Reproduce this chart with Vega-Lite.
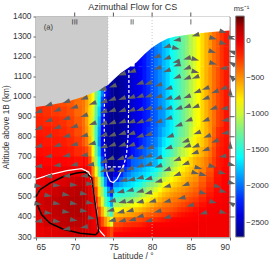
{"$schema":"https://vega.github.io/schema/vega-lite/v6.json","width":193.5,"height":220.5,"autosize":{"type":"none"},"padding":{"left":36,"top":16.5,"right":40,"bottom":25},"background":"white",
"config":{"font":"Liberation Sans","view":{"stroke":"#666","strokeWidth":1}},
"title":{"text":"Azimuthal Flow for CS","fontSize":9,"fontWeight":"normal","color":"#333","anchor":"middle","offset":4,"dy":11},
"datasets":{
"L":[
{"x":65.5,"y":975,"v":-230},{"x":66.5,"y":975,"v":-250},{"x":67.5,"y":975,"v":-270},{"x":68.5,"y":975,"v":-300},{"x":69.5,"y":975,"v":-330},{"x":70.5,"y":975,"v":-400},
{"x":65.5,"y":925,"v":-200},{"x":66.5,"y":925,"v":-220},{"x":67.5,"y":925,"v":-240},{"x":68.5,"y":925,"v":-260},{"x":69.5,"y":925,"v":-300},{"x":70.5,"y":925,"v":-380},
{"x":65.5,"y":875,"v":-180},{"x":66.5,"y":875,"v":-190},{"x":67.5,"y":875,"v":-200},{"x":68.5,"y":875,"v":-220},{"x":69.5,"y":875,"v":-270},{"x":70.5,"y":875,"v":-340},
{"x":65.5,"y":825,"v":-150},{"x":66.5,"y":825,"v":-160},{"x":67.5,"y":825,"v":-170},{"x":68.5,"y":825,"v":-190},{"x":69.5,"y":825,"v":-230},{"x":70.5,"y":825,"v":-300},
{"x":65.5,"y":775,"v":-130},{"x":66.5,"y":775,"v":-140},{"x":67.5,"y":775,"v":-150},{"x":68.5,"y":775,"v":-160},{"x":69.5,"y":775,"v":-190},{"x":70.5,"y":775,"v":-250},
{"x":65.5,"y":725,"v":-110},{"x":66.5,"y":725,"v":-120},{"x":67.5,"y":725,"v":-120},{"x":68.5,"y":725,"v":-130},{"x":69.5,"y":725,"v":-150},{"x":70.5,"y":725,"v":-200},
{"x":65.5,"y":675,"v":-80},{"x":66.5,"y":675,"v":-90},{"x":67.5,"y":675,"v":-90},{"x":68.5,"y":675,"v":-90},{"x":69.5,"y":675,"v":-100},{"x":70.5,"y":675,"v":-120},
{"x":65.5,"y":625,"v":-30},{"x":66.5,"y":625,"v":-30},{"x":67.5,"y":625,"v":-20},{"x":68.5,"y":625,"v":-10},{"x":69.5,"y":625,"v":0},{"x":70.5,"y":625,"v":10},
{"x":65.5,"y":575,"v":10},{"x":66.5,"y":575,"v":20},{"x":67.5,"y":575,"v":40},{"x":68.5,"y":575,"v":60},{"x":69.5,"y":575,"v":90},{"x":70.5,"y":575,"v":120},
{"x":65.5,"y":525,"v":30},{"x":66.5,"y":525,"v":60},{"x":67.5,"y":525,"v":110},{"x":68.5,"y":525,"v":130},{"x":69.5,"y":525,"v":150},{"x":70.5,"y":525,"v":170},
{"x":65.5,"y":475,"v":90},{"x":66.5,"y":475,"v":120},{"x":67.5,"y":475,"v":140},{"x":68.5,"y":475,"v":170},{"x":69.5,"y":475,"v":190},{"x":70.5,"y":475,"v":190},
{"x":65.5,"y":425,"v":70},{"x":66.5,"y":425,"v":110},{"x":67.5,"y":425,"v":140},{"x":68.5,"y":425,"v":170},{"x":69.5,"y":425,"v":190},{"x":70.5,"y":425,"v":190},
{"x":65.5,"y":375,"v":30},{"x":66.5,"y":375,"v":90},{"x":67.5,"y":375,"v":120},{"x":68.5,"y":375,"v":150},{"x":69.5,"y":375,"v":170},{"x":70.5,"y":375,"v":160},
{"x":65.5,"y":325,"v":10},{"x":66.5,"y":325,"v":30},{"x":67.5,"y":325,"v":50},{"x":68.5,"y":325,"v":70},{"x":69.5,"y":325,"v":100},{"x":70.5,"y":325,"v":110}],
"T":[
{"x":71.2,"y":1075,"v":-420},{"x":71.6,"y":1075,"v":-550},{"x":72,"y":1075,"v":-700},{"x":72.4,"y":1075,"v":-850},{"x":72.8,"y":1075,"v":-1200},{"x":73.2,"y":1075,"v":-1450},{"x":73.6,"y":1075,"v":-1900},{"x":74,"y":1075,"v":-2250},{"x":74.4,"y":1075,"v":-2500},{"x":74.8,"y":1075,"v":-2600},
{"x":71.2,"y":1025,"v":-420},{"x":71.6,"y":1025,"v":-550},{"x":72,"y":1025,"v":-700},{"x":72.4,"y":1025,"v":-850},{"x":72.8,"y":1025,"v":-1250},{"x":73.2,"y":1025,"v":-1500},{"x":73.6,"y":1025,"v":-1950},{"x":74,"y":1025,"v":-2300},{"x":74.4,"y":1025,"v":-2500},{"x":74.8,"y":1025,"v":-2600},
{"x":71.2,"y":975,"v":-420},{"x":71.6,"y":975,"v":-550},{"x":72,"y":975,"v":-700},{"x":72.4,"y":975,"v":-850},{"x":72.8,"y":975,"v":-1250},{"x":73.2,"y":975,"v":-1600},{"x":73.6,"y":975,"v":-2100},{"x":74,"y":975,"v":-2400},{"x":74.4,"y":975,"v":-2550},{"x":74.8,"y":975,"v":-2600},
{"x":71.2,"y":925,"v":-430},{"x":71.6,"y":925,"v":-570},{"x":72,"y":925,"v":-750},{"x":72.4,"y":925,"v":-950},{"x":72.8,"y":925,"v":-1300},{"x":73.2,"y":925,"v":-1700},{"x":73.6,"y":925,"v":-2200},{"x":74,"y":925,"v":-2450},{"x":74.4,"y":925,"v":-2600},{"x":74.8,"y":925,"v":-2650},
{"x":71.2,"y":875,"v":-400},{"x":71.6,"y":875,"v":-550},{"x":72,"y":875,"v":-750},{"x":72.4,"y":875,"v":-1000},{"x":72.8,"y":875,"v":-1350},{"x":73.2,"y":875,"v":-1800},{"x":73.6,"y":875,"v":-2250},{"x":74,"y":875,"v":-2500},{"x":74.4,"y":875,"v":-2600},{"x":74.8,"y":875,"v":-2650},
{"x":71.2,"y":825,"v":-380},{"x":71.6,"y":825,"v":-500},{"x":72,"y":825,"v":-700},{"x":72.4,"y":825,"v":-1000},{"x":72.8,"y":825,"v":-1400},{"x":73.2,"y":825,"v":-1850},{"x":73.6,"y":825,"v":-2300},{"x":74,"y":825,"v":-2500},{"x":74.4,"y":825,"v":-2600},{"x":74.8,"y":825,"v":-2650},
{"x":71.2,"y":775,"v":-320},{"x":71.6,"y":775,"v":-420},{"x":72,"y":775,"v":-620},{"x":72.4,"y":775,"v":-950},{"x":72.8,"y":775,"v":-1400},{"x":73.2,"y":775,"v":-1900},{"x":73.6,"y":775,"v":-2350},{"x":74,"y":775,"v":-2550},{"x":74.4,"y":775,"v":-2600},{"x":74.8,"y":775,"v":-2650},
{"x":71.2,"y":725,"v":-220},{"x":71.6,"y":725,"v":-280},{"x":72,"y":725,"v":-450},{"x":72.4,"y":725,"v":-850},{"x":72.8,"y":725,"v":-1300},{"x":73.2,"y":725,"v":-1750},{"x":73.6,"y":725,"v":-2250},{"x":74,"y":725,"v":-2500},{"x":74.4,"y":725,"v":-2600},{"x":74.8,"y":725,"v":-2650},
{"x":71.2,"y":675,"v":-80},{"x":71.6,"y":675,"v":-120},{"x":72,"y":675,"v":-300},{"x":72.4,"y":675,"v":-700},{"x":72.8,"y":675,"v":-1150},{"x":73.2,"y":675,"v":-1600},{"x":73.6,"y":675,"v":-2100},{"x":74,"y":675,"v":-2450},{"x":74.4,"y":675,"v":-2600},{"x":74.8,"y":675,"v":-2650},
{"x":71.2,"y":625,"v":20},{"x":71.6,"y":625,"v":0},{"x":72,"y":625,"v":-120},{"x":72.4,"y":625,"v":-450},{"x":72.8,"y":625,"v":-900},{"x":73.2,"y":625,"v":-1350},{"x":73.6,"y":625,"v":-1800},{"x":74,"y":625,"v":-2250},{"x":74.4,"y":625,"v":-2480},{"x":74.8,"y":625,"v":-2600},
{"x":71.2,"y":575,"v":130},{"x":71.6,"y":575,"v":50},{"x":72,"y":575,"v":-20},{"x":72.4,"y":575,"v":-200},{"x":72.8,"y":575,"v":-550},{"x":73.2,"y":575,"v":-1000},{"x":73.6,"y":575,"v":-1400},{"x":74,"y":575,"v":-1900},{"x":74.4,"y":575,"v":-2250},{"x":74.8,"y":575,"v":-2500},
{"x":71.2,"y":525,"v":170},{"x":71.6,"y":525,"v":110},{"x":72,"y":525,"v":30},{"x":72.4,"y":525,"v":-80},{"x":72.8,"y":525,"v":-300},{"x":73.2,"y":525,"v":-750},{"x":73.6,"y":525,"v":-1150},{"x":74,"y":525,"v":-1500},{"x":74.4,"y":525,"v":-1900},{"x":74.8,"y":525,"v":-2200},
{"x":71.2,"y":475,"v":180},{"x":71.6,"y":475,"v":130},{"x":72,"y":475,"v":60},{"x":72.4,"y":475,"v":-20},{"x":72.8,"y":475,"v":-150},{"x":73.2,"y":475,"v":-500},{"x":73.6,"y":475,"v":-950},{"x":74,"y":475,"v":-1300},{"x":74.4,"y":475,"v":-1600},{"x":74.8,"y":475,"v":-1850},
{"x":71.2,"y":425,"v":170},{"x":71.6,"y":425,"v":130},{"x":72,"y":425,"v":70},{"x":72.4,"y":425,"v":0},{"x":72.8,"y":425,"v":-80},{"x":73.2,"y":425,"v":-280},{"x":73.6,"y":425,"v":-600},{"x":74,"y":425,"v":-950},{"x":74.4,"y":425,"v":-1200},{"x":74.8,"y":425,"v":-1450},
{"x":71.2,"y":375,"v":160},{"x":71.6,"y":375,"v":120},{"x":72,"y":375,"v":70},{"x":72.4,"y":375,"v":20},{"x":72.8,"y":375,"v":-40},{"x":73.2,"y":375,"v":-120},{"x":73.6,"y":375,"v":-300},{"x":74,"y":375,"v":-500},{"x":74.4,"y":375,"v":-700},{"x":74.8,"y":375,"v":-950},
{"x":71.2,"y":325,"v":110},{"x":71.6,"y":325,"v":90},{"x":72,"y":325,"v":70},{"x":72.4,"y":325,"v":30},{"x":72.8,"y":325,"v":0},{"x":73.2,"y":325,"v":-30},{"x":73.6,"y":325,"v":-80},{"x":74,"y":325,"v":-120},{"x":74.4,"y":325,"v":-200},{"x":74.8,"y":325,"v":-300}],
"R1":[
{"x":75.5,"y":312.5,"v":-70},{"x":75.5,"y":337.5,"v":-160},{"x":75.5,"y":362.5,"v":-290},{"x":75.5,"y":387.5,"v":-450},{"x":75.5,"y":412.5,"v":-650},{"x":75.5,"y":437.5,"v":-880},{"x":75.5,"y":462.5,"v":-1130},{"x":75.5,"y":487.5,"v":-1340},{"x":75.5,"y":512.5,"v":-1510},{"x":75.5,"y":537.5,"v":-1710},{"x":75.5,"y":562.5,"v":-1930},{"x":75.5,"y":587.5,"v":-2180},{"x":75.5,"y":612.5,"v":-2360},{"x":75.5,"y":637.5,"v":-2490},
{"x":76.5,"y":312.5,"v":-55},{"x":76.5,"y":337.5,"v":-120},{"x":76.5,"y":362.5,"v":-230},{"x":76.5,"y":387.5,"v":-370},{"x":76.5,"y":412.5,"v":-580},{"x":76.5,"y":437.5,"v":-780},{"x":76.5,"y":462.5,"v":-1000},{"x":76.5,"y":487.5,"v":-1240},{"x":76.5,"y":512.5,"v":-1430},{"x":76.5,"y":537.5,"v":-1610},{"x":76.5,"y":562.5,"v":-1750},{"x":76.5,"y":587.5,"v":-1890},{"x":76.5,"y":612.5,"v":-2030},{"x":76.5,"y":637.5,"v":-2170},
{"x":77.5,"y":312.5,"v":-50},{"x":77.5,"y":337.5,"v":-95},{"x":77.5,"y":362.5,"v":-200},{"x":77.5,"y":387.5,"v":-320},{"x":77.5,"y":412.5,"v":-530},{"x":77.5,"y":437.5,"v":-710},{"x":77.5,"y":462.5,"v":-900},{"x":77.5,"y":487.5,"v":-1130},{"x":77.5,"y":512.5,"v":-1350},{"x":77.5,"y":537.5,"v":-1540},{"x":77.5,"y":562.5,"v":-1660},{"x":77.5,"y":587.5,"v":-1750},{"x":77.5,"y":612.5,"v":-1840},{"x":77.5,"y":637.5,"v":-1930},
{"x":78.5,"y":312.5,"v":-40},{"x":78.5,"y":337.5,"v":-85},{"x":78.5,"y":362.5,"v":-180},{"x":78.5,"y":387.5,"v":-290},{"x":78.5,"y":412.5,"v":-450},{"x":78.5,"y":437.5,"v":-620},{"x":78.5,"y":462.5,"v":-800},{"x":78.5,"y":487.5,"v":-980},{"x":78.5,"y":512.5,"v":-1160},{"x":78.5,"y":537.5,"v":-1340},{"x":78.5,"y":562.5,"v":-1510},{"x":78.5,"y":587.5,"v":-1650},{"x":78.5,"y":612.5,"v":-1740},{"x":78.5,"y":637.5,"v":-1830},
{"x":79.5,"y":312.5,"v":-30},{"x":79.5,"y":337.5,"v":-55},{"x":79.5,"y":362.5,"v":-110},{"x":79.5,"y":387.5,"v":-240},{"x":79.5,"y":412.5,"v":-370},{"x":79.5,"y":437.5,"v":-510},{"x":79.5,"y":462.5,"v":-660},{"x":79.5,"y":487.5,"v":-810},{"x":79.5,"y":512.5,"v":-960},{"x":79.5,"y":537.5,"v":-1110},{"x":79.5,"y":562.5,"v":-1270},{"x":79.5,"y":587.5,"v":-1490},{"x":79.5,"y":612.5,"v":-1640},{"x":79.5,"y":637.5,"v":-1710},
{"x":80.5,"y":312.5,"v":-30},{"x":80.5,"y":337.5,"v":-50},{"x":80.5,"y":362.5,"v":-85},{"x":80.5,"y":387.5,"v":-190},{"x":80.5,"y":412.5,"v":-310},{"x":80.5,"y":437.5,"v":-420},{"x":80.5,"y":462.5,"v":-540},{"x":80.5,"y":487.5,"v":-680},{"x":80.5,"y":512.5,"v":-810},{"x":80.5,"y":537.5,"v":-960},{"x":80.5,"y":562.5,"v":-1130},{"x":80.5,"y":587.5,"v":-1290},{"x":80.5,"y":612.5,"v":-1440},{"x":80.5,"y":637.5,"v":-1590},
{"x":81.5,"y":312.5,"v":-30},{"x":81.5,"y":337.5,"v":-45},{"x":81.5,"y":362.5,"v":-75},{"x":81.5,"y":387.5,"v":-140},{"x":81.5,"y":412.5,"v":-260},{"x":81.5,"y":437.5,"v":-360},{"x":81.5,"y":462.5,"v":-440},{"x":81.5,"y":487.5,"v":-530},{"x":81.5,"y":512.5,"v":-640},{"x":81.5,"y":537.5,"v":-750},{"x":81.5,"y":562.5,"v":-870},{"x":81.5,"y":587.5,"v":-1020},{"x":81.5,"y":612.5,"v":-1170},{"x":81.5,"y":637.5,"v":-1300},
{"x":82.5,"y":312.5,"v":-30},{"x":82.5,"y":337.5,"v":-40},{"x":82.5,"y":362.5,"v":-65},{"x":82.5,"y":387.5,"v":-95},{"x":82.5,"y":412.5,"v":-210},{"x":82.5,"y":437.5,"v":-320},{"x":82.5,"y":462.5,"v":-390},{"x":82.5,"y":487.5,"v":-450},{"x":82.5,"y":512.5,"v":-530},{"x":82.5,"y":537.5,"v":-630},{"x":82.5,"y":562.5,"v":-740},{"x":82.5,"y":587.5,"v":-840},{"x":82.5,"y":612.5,"v":-960},{"x":82.5,"y":637.5,"v":-1090},
{"x":83.5,"y":312.5,"v":-30},{"x":83.5,"y":337.5,"v":-40},{"x":83.5,"y":362.5,"v":-55},{"x":83.5,"y":387.5,"v":-85},{"x":83.5,"y":412.5,"v":-145},{"x":83.5,"y":437.5,"v":-235},{"x":83.5,"y":462.5,"v":-320},{"x":83.5,"y":487.5,"v":-390},{"x":83.5,"y":512.5,"v":-465},{"x":83.5,"y":537.5,"v":-540},{"x":83.5,"y":562.5,"v":-625},{"x":83.5,"y":587.5,"v":-710},{"x":83.5,"y":612.5,"v":-790},{"x":83.5,"y":637.5,"v":-880},
{"x":84.5,"y":312.5,"v":-30},{"x":84.5,"y":337.5,"v":-35},{"x":84.5,"y":362.5,"v":-45},{"x":84.5,"y":387.5,"v":-75},{"x":84.5,"y":412.5,"v":-105},{"x":84.5,"y":437.5,"v":-180},{"x":84.5,"y":462.5,"v":-250},{"x":84.5,"y":487.5,"v":-320},{"x":84.5,"y":512.5,"v":-390},{"x":84.5,"y":537.5,"v":-465},{"x":84.5,"y":562.5,"v":-530},{"x":84.5,"y":587.5,"v":-595},{"x":84.5,"y":612.5,"v":-655},{"x":84.5,"y":637.5,"v":-720},
{"x":85.5,"y":312.5,"v":-30},{"x":85.5,"y":337.5,"v":-35},{"x":85.5,"y":362.5,"v":-40},{"x":85.5,"y":387.5,"v":-60},{"x":85.5,"y":412.5,"v":-85},{"x":85.5,"y":437.5,"v":-120},{"x":85.5,"y":462.5,"v":-180},{"x":85.5,"y":487.5,"v":-245},{"x":85.5,"y":512.5,"v":-310},{"x":85.5,"y":537.5,"v":-370},{"x":85.5,"y":562.5,"v":-430},{"x":85.5,"y":587.5,"v":-495},{"x":85.5,"y":612.5,"v":-540},{"x":85.5,"y":637.5,"v":-580},
{"x":86.5,"y":312.5,"v":-30},{"x":86.5,"y":337.5,"v":-35},{"x":86.5,"y":362.5,"v":-40},{"x":86.5,"y":387.5,"v":-45},{"x":86.5,"y":412.5,"v":-60},{"x":86.5,"y":437.5,"v":-85},{"x":86.5,"y":462.5,"v":-125},{"x":86.5,"y":487.5,"v":-175},{"x":86.5,"y":512.5,"v":-225},{"x":86.5,"y":537.5,"v":-275},{"x":86.5,"y":562.5,"v":-325},{"x":86.5,"y":587.5,"v":-370},{"x":86.5,"y":612.5,"v":-415},{"x":86.5,"y":637.5,"v":-460},
{"x":87.5,"y":312.5,"v":-30},{"x":87.5,"y":337.5,"v":-30},{"x":87.5,"y":362.5,"v":-35},{"x":87.5,"y":387.5,"v":-40},{"x":87.5,"y":412.5,"v":-45},{"x":87.5,"y":437.5,"v":-55},{"x":87.5,"y":462.5,"v":-80},{"x":87.5,"y":487.5,"v":-110},{"x":87.5,"y":512.5,"v":-145},{"x":87.5,"y":537.5,"v":-180},{"x":87.5,"y":562.5,"v":-215},{"x":87.5,"y":587.5,"v":-250},{"x":87.5,"y":612.5,"v":-290},{"x":87.5,"y":637.5,"v":-325},
{"x":88.5,"y":312.5,"v":-30},{"x":88.5,"y":337.5,"v":-30},{"x":88.5,"y":362.5,"v":-30},{"x":88.5,"y":387.5,"v":-35},{"x":88.5,"y":412.5,"v":-40},{"x":88.5,"y":437.5,"v":-45},{"x":88.5,"y":462.5,"v":-50},{"x":88.5,"y":487.5,"v":-70},{"x":88.5,"y":512.5,"v":-85},{"x":88.5,"y":537.5,"v":-100},{"x":88.5,"y":562.5,"v":-110},{"x":88.5,"y":587.5,"v":-120},{"x":88.5,"y":612.5,"v":-130},{"x":88.5,"y":637.5,"v":-140},
{"x":89.5,"y":312.5,"v":-30},{"x":89.5,"y":337.5,"v":-30},{"x":89.5,"y":362.5,"v":-30},{"x":89.5,"y":387.5,"v":-30},{"x":89.5,"y":412.5,"v":-35},{"x":89.5,"y":437.5,"v":-35},{"x":89.5,"y":462.5,"v":-40},{"x":89.5,"y":487.5,"v":-45},{"x":89.5,"y":512.5,"v":-50},{"x":89.5,"y":537.5,"v":-60},{"x":89.5,"y":562.5,"v":-70},{"x":89.5,"y":587.5,"v":-80},{"x":89.5,"y":612.5,"v":-85},{"x":89.5,"y":637.5,"v":-90}],
"R1b":[
{"x":76,"y":312.5,"v":-62},{"x":76,"y":337.5,"v":-140},{"x":76,"y":362.5,"v":-260},{"x":76,"y":387.5,"v":-410},{"x":76,"y":412.5,"v":-615},{"x":76,"y":437.5,"v":-830},{"x":76,"y":462.5,"v":-1065},{"x":76,"y":487.5,"v":-1290},{"x":76,"y":512.5,"v":-1470},{"x":76,"y":537.5,"v":-1660},{"x":76,"y":562.5,"v":-1840},{"x":76,"y":587.5,"v":-2035},{"x":76,"y":612.5,"v":-2195},{"x":76,"y":637.5,"v":-2330},
{"x":77,"y":312.5,"v":-52},{"x":77,"y":337.5,"v":-108},{"x":77,"y":362.5,"v":-215},{"x":77,"y":387.5,"v":-345},{"x":77,"y":412.5,"v":-555},{"x":77,"y":437.5,"v":-745},{"x":77,"y":462.5,"v":-950},{"x":77,"y":487.5,"v":-1185},{"x":77,"y":512.5,"v":-1390},{"x":77,"y":537.5,"v":-1575},{"x":77,"y":562.5,"v":-1705},{"x":77,"y":587.5,"v":-1820},{"x":77,"y":612.5,"v":-1935},{"x":77,"y":637.5,"v":-2050},
{"x":78,"y":312.5,"v":-45},{"x":78,"y":337.5,"v":-90},{"x":78,"y":362.5,"v":-190},{"x":78,"y":387.5,"v":-305},{"x":78,"y":412.5,"v":-490},{"x":78,"y":437.5,"v":-665},{"x":78,"y":462.5,"v":-850},{"x":78,"y":487.5,"v":-1055},{"x":78,"y":512.5,"v":-1255},{"x":78,"y":537.5,"v":-1440},{"x":78,"y":562.5,"v":-1585},{"x":78,"y":587.5,"v":-1700},{"x":78,"y":612.5,"v":-1790},{"x":78,"y":637.5,"v":-1880},
{"x":79,"y":312.5,"v":-35},{"x":79,"y":337.5,"v":-70},{"x":79,"y":362.5,"v":-145},{"x":79,"y":387.5,"v":-265},{"x":79,"y":412.5,"v":-410},{"x":79,"y":437.5,"v":-565},{"x":79,"y":462.5,"v":-730},{"x":79,"y":487.5,"v":-895},{"x":79,"y":512.5,"v":-1060},{"x":79,"y":537.5,"v":-1225},{"x":79,"y":562.5,"v":-1390},{"x":79,"y":587.5,"v":-1570},{"x":79,"y":612.5,"v":-1690},{"x":79,"y":637.5,"v":-1770},
{"x":80,"y":312.5,"v":-30},{"x":80,"y":337.5,"v":-52},{"x":80,"y":362.5,"v":-98},{"x":80,"y":387.5,"v":-215},{"x":80,"y":412.5,"v":-340},{"x":80,"y":437.5,"v":-465},{"x":80,"y":462.5,"v":-600},{"x":80,"y":487.5,"v":-745},{"x":80,"y":512.5,"v":-885},{"x":80,"y":537.5,"v":-1035},{"x":80,"y":562.5,"v":-1200},{"x":80,"y":587.5,"v":-1390},{"x":80,"y":612.5,"v":-1540},{"x":80,"y":637.5,"v":-1650},
{"x":81,"y":312.5,"v":-30},{"x":81,"y":337.5,"v":-48},{"x":81,"y":362.5,"v":-80},{"x":81,"y":387.5,"v":-165},{"x":81,"y":412.5,"v":-285},{"x":81,"y":437.5,"v":-390},{"x":81,"y":462.5,"v":-490},{"x":81,"y":487.5,"v":-605},{"x":81,"y":512.5,"v":-725},{"x":81,"y":537.5,"v":-855},{"x":81,"y":562.5,"v":-1000},{"x":81,"y":587.5,"v":-1155},{"x":81,"y":612.5,"v":-1305},{"x":81,"y":637.5,"v":-1445},
{"x":82,"y":312.5,"v":-30},{"x":82,"y":337.5,"v":-42},{"x":82,"y":362.5,"v":-70},{"x":82,"y":387.5,"v":-118},{"x":82,"y":412.5,"v":-235},{"x":82,"y":437.5,"v":-340},{"x":82,"y":462.5,"v":-415},{"x":82,"y":487.5,"v":-490},{"x":82,"y":512.5,"v":-585},{"x":82,"y":537.5,"v":-690},{"x":82,"y":562.5,"v":-805},{"x":82,"y":587.5,"v":-930},{"x":82,"y":612.5,"v":-1065},{"x":82,"y":637.5,"v":-1195},
{"x":83,"y":312.5,"v":-30},{"x":83,"y":337.5,"v":-40},{"x":83,"y":362.5,"v":-60},{"x":83,"y":387.5,"v":-90},{"x":83,"y":412.5,"v":-178},{"x":83,"y":437.5,"v":-278},{"x":83,"y":462.5,"v":-355},{"x":83,"y":487.5,"v":-420},{"x":83,"y":512.5,"v":-498},{"x":83,"y":537.5,"v":-585},{"x":83,"y":562.5,"v":-682},{"x":83,"y":587.5,"v":-775},{"x":83,"y":612.5,"v":-875},{"x":83,"y":637.5,"v":-985},
{"x":84,"y":312.5,"v":-30},{"x":84,"y":337.5,"v":-38},{"x":84,"y":362.5,"v":-50},{"x":84,"y":387.5,"v":-80},{"x":84,"y":412.5,"v":-125},{"x":84,"y":437.5,"v":-208},{"x":84,"y":462.5,"v":-285},{"x":84,"y":487.5,"v":-355},{"x":84,"y":512.5,"v":-428},{"x":84,"y":537.5,"v":-502},{"x":84,"y":562.5,"v":-578},{"x":84,"y":587.5,"v":-652},{"x":84,"y":612.5,"v":-722},{"x":84,"y":637.5,"v":-800},
{"x":85,"y":312.5,"v":-30},{"x":85,"y":337.5,"v":-35},{"x":85,"y":362.5,"v":-42},{"x":85,"y":387.5,"v":-68},{"x":85,"y":412.5,"v":-95},{"x":85,"y":437.5,"v":-150},{"x":85,"y":462.5,"v":-215},{"x":85,"y":487.5,"v":-282},{"x":85,"y":512.5,"v":-350},{"x":85,"y":537.5,"v":-418},{"x":85,"y":562.5,"v":-480},{"x":85,"y":587.5,"v":-545},{"x":85,"y":612.5,"v":-598},{"x":85,"y":637.5,"v":-650}],
"R2":[
{"x":75.5,"y":675,"v":-2600},{"x":75.5,"y":725,"v":-2650},{"x":75.5,"y":775,"v":-2650},{"x":75.5,"y":825,"v":-2650},
{"x":76.5,"y":675,"v":-2350},{"x":76.5,"y":725,"v":-2510},{"x":76.5,"y":775,"v":-2540},{"x":76.5,"y":825,"v":-2560},
{"x":77.5,"y":675,"v":-2040},{"x":77.5,"y":725,"v":-2250},{"x":77.5,"y":775,"v":-2360},{"x":77.5,"y":825,"v":-2420},
{"x":78.5,"y":675,"v":-1970},{"x":78.5,"y":725,"v":-2130},{"x":78.5,"y":775,"v":-2230},{"x":78.5,"y":825,"v":-2320},
{"x":79.5,"y":675,"v":-1850},{"x":79.5,"y":725,"v":-1960},{"x":79.5,"y":775,"v":-2060},{"x":79.5,"y":825,"v":-2150},
{"x":80.5,"y":675,"v":-1800},{"x":80.5,"y":725,"v":-1880},{"x":80.5,"y":775,"v":-1950},{"x":80.5,"y":825,"v":-2010},
{"x":81.5,"y":675,"v":-1420},{"x":81.5,"y":725,"v":-1580},{"x":81.5,"y":775,"v":-1680},{"x":81.5,"y":825,"v":-1780},
{"x":82.5,"y":675,"v":-1200},{"x":82.5,"y":725,"v":-1380},{"x":82.5,"y":775,"v":-1480},{"x":82.5,"y":825,"v":-1630},
{"x":83.5,"y":675,"v":-980},{"x":83.5,"y":725,"v":-1130},{"x":83.5,"y":775,"v":-1280},{"x":83.5,"y":825,"v":-1340},
{"x":84.5,"y":675,"v":-800},{"x":84.5,"y":725,"v":-960},{"x":84.5,"y":775,"v":-1100},{"x":84.5,"y":825,"v":-1180},
{"x":85.5,"y":675,"v":-620},{"x":85.5,"y":725,"v":-720},{"x":85.5,"y":775,"v":-820},{"x":85.5,"y":825,"v":-880},
{"x":86.5,"y":675,"v":-510},{"x":86.5,"y":725,"v":-600},{"x":86.5,"y":775,"v":-680},{"x":86.5,"y":825,"v":-720},
{"x":87.5,"y":675,"v":-360},{"x":87.5,"y":725,"v":-410},{"x":87.5,"y":775,"v":-460},{"x":87.5,"y":825,"v":-510},
{"x":88.5,"y":675,"v":-155},{"x":88.5,"y":725,"v":-180},{"x":88.5,"y":775,"v":-200},{"x":88.5,"y":825,"v":-220},
{"x":89.5,"y":675,"v":-100},{"x":89.5,"y":725,"v":-110},{"x":89.5,"y":775,"v":-120},{"x":89.5,"y":825,"v":-130}],
"R2b":[
{"x":76,"y":675,"v":-2475},{"x":76,"y":725,"v":-2580},{"x":76,"y":775,"v":-2595},{"x":76,"y":825,"v":-2605},
{"x":77,"y":675,"v":-2195},{"x":77,"y":725,"v":-2380},{"x":77,"y":775,"v":-2450},{"x":77,"y":825,"v":-2490},
{"x":78,"y":675,"v":-2005},{"x":78,"y":725,"v":-2190},{"x":78,"y":775,"v":-2295},{"x":78,"y":825,"v":-2370},
{"x":79,"y":675,"v":-1910},{"x":79,"y":725,"v":-2045},{"x":79,"y":775,"v":-2145},{"x":79,"y":825,"v":-2235},
{"x":80,"y":675,"v":-1825},{"x":80,"y":725,"v":-1920},{"x":80,"y":775,"v":-2005},{"x":80,"y":825,"v":-2080},
{"x":81,"y":675,"v":-1610},{"x":81,"y":725,"v":-1730},{"x":81,"y":775,"v":-1815},{"x":81,"y":825,"v":-1895},
{"x":82,"y":675,"v":-1310},{"x":82,"y":725,"v":-1480},{"x":82,"y":775,"v":-1580},{"x":82,"y":825,"v":-1705},
{"x":83,"y":675,"v":-1090},{"x":83,"y":725,"v":-1255},{"x":83,"y":775,"v":-1380},{"x":83,"y":825,"v":-1485},
{"x":84,"y":675,"v":-890},{"x":84,"y":725,"v":-1045},{"x":84,"y":775,"v":-1190},{"x":84,"y":825,"v":-1260},
{"x":85,"y":675,"v":-710},{"x":85,"y":725,"v":-840},{"x":85,"y":775,"v":-960},{"x":85,"y":825,"v":-1030},
{"x":86,"y":675,"v":-565},{"x":86,"y":725,"v":-660},{"x":86,"y":775,"v":-750},{"x":86,"y":825,"v":-800},
{"x":87,"y":675,"v":-435},{"x":87,"y":725,"v":-505},{"x":87,"y":775,"v":-570},{"x":87,"y":825,"v":-615},
{"x":88,"y":675,"v":-258},{"x":88,"y":725,"v":-295},{"x":88,"y":775,"v":-330},{"x":88,"y":825,"v":-365},
{"x":89,"y":675,"v":-128},{"x":89,"y":725,"v":-145},{"x":89,"y":775,"v":-160},{"x":89,"y":825,"v":-175}],
"R3":[
{"x":75.5,"y":900,"v":-2650},{"x":75.5,"y":1000,"v":-2650},{"x":75.5,"y":1100,"v":-2650},
{"x":76.5,"y":900,"v":-2560},{"x":76.5,"y":1000,"v":-2560},{"x":76.5,"y":1100,"v":-2560},
{"x":77.5,"y":900,"v":-2430},{"x":77.5,"y":1000,"v":-2440},{"x":77.5,"y":1100,"v":-2430},
{"x":78.5,"y":900,"v":-2340},{"x":78.5,"y":1000,"v":-2340},{"x":78.5,"y":1100,"v":-2330},{"x":78.5,"y":1200,"v":-2300},
{"x":79.5,"y":900,"v":-2200},{"x":79.5,"y":1000,"v":-2180},{"x":79.5,"y":1100,"v":-2160},{"x":79.5,"y":1200,"v":-2150},
{"x":80.5,"y":900,"v":-2040},{"x":80.5,"y":1000,"v":-2020},{"x":80.5,"y":1100,"v":-2000},{"x":80.5,"y":1200,"v":-1980},{"x":80.5,"y":1300,"v":-1950},
{"x":81.5,"y":900,"v":-1880},{"x":81.5,"y":1000,"v":-1850},{"x":81.5,"y":1100,"v":-1830},{"x":81.5,"y":1200,"v":-1800},{"x":81.5,"y":1300,"v":-1780},
{"x":82.5,"y":900,"v":-1640},{"x":82.5,"y":1000,"v":-1620},{"x":82.5,"y":1100,"v":-1600},{"x":82.5,"y":1200,"v":-1580},{"x":82.5,"y":1300,"v":-1560},
{"x":83.5,"y":900,"v":-1420},{"x":83.5,"y":1000,"v":-1400},{"x":83.5,"y":1100,"v":-1390},{"x":83.5,"y":1200,"v":-1380},{"x":83.5,"y":1300,"v":-1370},
{"x":84.5,"y":900,"v":-1180},{"x":84.5,"y":1000,"v":-1180},{"x":84.5,"y":1100,"v":-1190},{"x":84.5,"y":1200,"v":-1190},{"x":84.5,"y":1300,"v":-1200},
{"x":85.5,"y":900,"v":-920},{"x":85.5,"y":1000,"v":-950},{"x":85.5,"y":1100,"v":-960},{"x":85.5,"y":1200,"v":-970},{"x":85.5,"y":1300,"v":-970},
{"x":86.5,"y":900,"v":-720},{"x":86.5,"y":1000,"v":-720},{"x":86.5,"y":1100,"v":-720},{"x":86.5,"y":1200,"v":-730},{"x":86.5,"y":1300,"v":-730},
{"x":87.5,"y":900,"v":-500},{"x":87.5,"y":1000,"v":-500},{"x":87.5,"y":1100,"v":-510},{"x":87.5,"y":1200,"v":-510},{"x":87.5,"y":1300,"v":-520},
{"x":88.5,"y":900,"v":-280},{"x":88.5,"y":1000,"v":-300},{"x":88.5,"y":1100,"v":-320},{"x":88.5,"y":1200,"v":-330},{"x":88.5,"y":1300,"v":-330},
{"x":89.5,"y":900,"v":-130},{"x":89.5,"y":1000,"v":-140},{"x":89.5,"y":1100,"v":-150},{"x":89.5,"y":1200,"v":-150},{"x":89.5,"y":1300,"v":-150}],
"R3b":[{"x":76,"y":1100,"v":-2600},{"x":77,"y":1100,"v":-2490},{"x":78,"y":1100,"v":-2385},{"x":79,"y":1100,"v":-2245},{"x":80,"y":1100,"v":-2080},{"x":81,"y":1100,"v":-1915},{"x":82,"y":1100,"v":-1720},{"x":83,"y":1100,"v":-1500},{"x":84,"y":1100,"v":-1285},{"x":85,"y":1100,"v":-1070},{"x":86,"y":1100,"v":-840},{"x":87,"y":1100,"v":-610},{"x":88,"y":1100,"v":-400},{"x":89,"y":1100,"v":-230}],
"grey":[{"x":65,"y":948,"y2":1400},{"x":67,"y":960,"y2":1400},{"x":69,"y":975,"y2":1400},{"x":71,"y":998,"y2":1400},{"x":73,"y":1030,"y2":1400},{"x":74.3,"y":1058,"y2":1400}],
"white":[{"x":74.3,"y":1058,"y2":1400},{"x":75,"y":1085,"y2":1400},{"x":76,"y":1120,"y2":1400},{"x":77,"y":1145,"y2":1400},{"x":78,"y":1172,"y2":1400},{"x":79,"y":1212,"y2":1400},{"x":80,"y":1245,"y2":1400},{"x":81,"y":1270,"y2":1400},{"x":82,"y":1290,"y2":1400},{"x":83,"y":1300,"y2":1400},{"x":85,"y":1312,"y2":1400},{"x":87,"y":1320,"y2":1400},{"x":90,"y":1330,"y2":1400}],
"dots":[{"x":74.3,"y":1058,"y2":1400,"g":"a"},{"x":80,"y":300,"y2":1400,"g":"b"}],
"black":[{"i":1,"x":65,"y":477},{"i":2,"x":65.74,"y":411},{"i":3,"x":66.8,"y":369},{"i":4,"x":68.54,"y":339},{"i":5,"x":70.7,"y":319},{"i":6,"x":72.7,"y":311},{"i":7,"x":73.1,"y":327},{"i":8,"x":72.85,"y":411},{"i":9,"x":72.55,"y":494},{"i":10,"x":72.2,"y":594},{"i":11,"x":71.34,"y":624},{"i":12,"x":70.26,"y":619},{"i":13,"x":68.54,"y":602},{"i":14,"x":66.8,"y":569},{"i":15,"x":65.52,"y":536},{"i":16,"x":65,"y":502}],
"whitec":[{"i":1,"x":65,"y":589},{"i":2,"x":66.8,"y":611},{"i":3,"x":69,"y":631},{"i":4,"x":70.9,"y":641},{"i":5,"x":71.8,"y":624},{"i":6,"x":72.2,"y":583},{"i":7,"x":72.84,"y":433},{"i":8,"x":73,"y":341},{"i":9,"x":73.9,"y":303}],
"dash":[{"i":1,"x":73.9,"y":1040},{"i":2,"x":73.8,"y":900},{"i":3,"x":73.85,"y":750},{"i":4,"x":74.05,"y":650},{"i":5,"x":76.3,"y":650},{"i":6,"x":76.7,"y":715},{"i":7,"x":76.9,"y":800},{"i":8,"x":77,"y":1000},{"i":9,"x":77,"y":1140}],
"solid":[{"i":1,"x":74.05,"y":650},{"i":2,"x":74.2,"y":610},{"i":3,"x":74.6,"y":578},{"i":4,"x":75,"y":572},{"i":5,"x":75.5,"y":590},{"i":6,"x":76.05,"y":632},{"i":7,"x":76.3,"y":660}],
"arrows":[
{"x":66.6,"y":958,"a":160},{"x":68.9,"y":974,"a":160},{"x":71.2,"y":991,"a":160},{"x":73.6,"y":1036,"a":160},{"x":74.9,"y":1052,"a":160},{"x":76.1,"y":1112,"a":160},{"x":77.4,"y":1125,"a":160},
{"x":65.3,"y":924,"a":160},{"x":67.7,"y":932,"a":160},{"x":69.9,"y":946,"a":160},{"x":72.3,"y":966,"a":160},
{"x":66.6,"y":880,"a":160},{"x":68.9,"y":890,"a":160},{"x":71.2,"y":905,"a":160},
{"x":65.3,"y":841,"a":160},{"x":67.7,"y":845,"a":160},{"x":69.9,"y":850,"a":160},{"x":72.3,"y":865,"a":160},
{"x":66.6,"y":802,"a":165},{"x":68.9,"y":802,"a":165},{"x":71.2,"y":805,"a":165},
{"x":65.3,"y":752,"a":165},{"x":67.7,"y":755,"a":165},{"x":69.9,"y":760,"a":165},{"x":72.2,"y":765,"a":165},
{"x":66.6,"y":702,"a":170},{"x":68.9,"y":705,"a":170},{"x":71.2,"y":708,"a":170},
{"x":65.3,"y":652,"a":170},{"x":67.7,"y":657,"a":170},{"x":69.9,"y":660,"a":170},{"x":72,"y":660,"a":170},
{"x":66.6,"y":602,"a":175},{"x":68.9,"y":605,"a":175},{"x":71.2,"y":605,"a":175},
{"x":65.3,"y":555,"a":5},{"x":67.7,"y":557,"a":5},{"x":69.9,"y":560,"a":5},{"x":72,"y":565,"a":5},
{"x":66.6,"y":507,"a":10},{"x":68.9,"y":510,"a":10},{"x":71.2,"y":515,"a":10},
{"x":67.7,"y":467,"a":10},{"x":69.9,"y":467,"a":10},{"x":72,"y":470,"a":10},{"x":65.3,"y":465,"a":10},
{"x":66.6,"y":420,"a":10},{"x":68.9,"y":425,"a":10},{"x":71.2,"y":430,"a":10},
{"x":65.3,"y":378,"a":170},{"x":67.7,"y":378,"a":10},{"x":69.9,"y":385,"a":10},{"x":72.2,"y":395,"a":10},
{"x":68.9,"y":340,"a":170},{"x":71.2,"y":350,"a":170},
{"x":73.7,"y":974,"a":160},{"x":74.8,"y":985,"a":160},{"x":76.1,"y":990,"a":160},{"x":77.3,"y":995,"a":160},{"x":78.4,"y":1000,"a":160},{"x":79.5,"y":1002,"a":160},
{"x":73.7,"y":924,"a":160},{"x":74.8,"y":929,"a":160},{"x":76.1,"y":929,"a":160},{"x":77.3,"y":932,"a":160},{"x":78.4,"y":935,"a":160},{"x":79.5,"y":940,"a":160},
{"x":73.7,"y":865,"a":160},{"x":74.8,"y":868,"a":160},{"x":76.1,"y":873,"a":160},{"x":77.3,"y":873,"a":160},{"x":78.4,"y":873,"a":160},{"x":79.5,"y":882,"a":160},
{"x":73.7,"y":807,"a":160},{"x":74.8,"y":807,"a":160},{"x":76.1,"y":815,"a":160},{"x":77.3,"y":815,"a":160},{"x":78.4,"y":802,"a":160},{"x":79.5,"y":810,"a":160},
{"x":73.7,"y":749,"a":160},{"x":74.8,"y":757,"a":160},{"x":76.1,"y":757,"a":160},{"x":77.3,"y":757,"a":160},{"x":78.4,"y":744,"a":160},{"x":79.7,"y":744,"a":160},
{"x":73.7,"y":675,"a":160},{"x":74.6,"y":690,"a":160},{"x":75.9,"y":690,"a":160},{"x":77.1,"y":695,"a":160},{"x":78.4,"y":694,"a":160},{"x":79.5,"y":702,"a":160},{"x":80.8,"y":694,"a":160},
{"x":73.7,"y":630,"a":160},{"x":74.6,"y":632,"a":160},{"x":75.9,"y":630,"a":160},{"x":77.1,"y":640,"a":160},{"x":78.4,"y":652,"a":160},{"x":79.5,"y":660,"a":160},{"x":80.8,"y":652,"a":160},{"x":81.9,"y":635,"a":160},
{"x":76.3,"y":582,"a":165},{"x":77.3,"y":585,"a":165},{"x":78.4,"y":594,"a":165},{"x":79.5,"y":590,"a":165},{"x":80.8,"y":577,"a":165},
{"x":74.6,"y":525,"a":165},{"x":75.9,"y":525,"a":165},{"x":77.1,"y":532,"a":165},{"x":78.4,"y":527,"a":165},{"x":79.5,"y":519,"a":165},{"x":81.9,"y":552,"a":165},
{"x":74.8,"y":479,"a":165},{"x":76.1,"y":474,"a":165},{"x":77.1,"y":474,"a":165},{"x":78.4,"y":474,"a":165},{"x":80,"y":477,"a":165},{"x":81.9,"y":477,"a":165},
{"x":74.6,"y":432,"a":165},{"x":75.9,"y":424,"a":165},{"x":77.1,"y":430,"a":165},{"x":78.4,"y":402,"a":165},{"x":79.5,"y":380,"a":165},{"x":80.7,"y":427,"a":165},{"x":81.9,"y":397,"a":165},
{"x":74.8,"y":382,"a":165},{"x":76.1,"y":380,"a":165},{"x":77.4,"y":385,"a":165},
{"x":80.6,"y":1199,"a":160},{"x":81.9,"y":1249,"a":160},{"x":83.2,"y":1282,"a":170},{"x":85.6,"y":1307,"a":165},{"x":89.2,"y":1324,"a":15},{"x":87.9,"y":1291,"a":15},{"x":83.1,"y":1241,"a":15},
{"x":80.7,"y":1141,"a":160},{"x":81.9,"y":1191,"a":160},{"x":83.1,"y":1174,"a":165},{"x":84.5,"y":1191,"a":165},{"x":85.6,"y":1186,"a":15},{"x":87.8,"y":1224,"a":20},{"x":89.2,"y":1266,"a":15},
{"x":81.9,"y":1129,"a":160},{"x":83.2,"y":1157,"a":160},{"x":84.5,"y":1141,"a":160},{"x":85.6,"y":1124,"a":15},{"x":87.9,"y":1166,"a":15},{"x":89.2,"y":1141,"a":170},
{"x":78.4,"y":1066,"a":160},{"x":79.5,"y":1066,"a":160},{"x":80.8,"y":1057,"a":160},{"x":82.1,"y":1041,"a":160},{"x":83.2,"y":1096,"a":160},{"x":84.5,"y":1091,"a":160},{"x":85.6,"y":1096,"a":160},{"x":86.9,"y":1041,"a":160},{"x":89.2,"y":1041,"a":160},
{"x":80.8,"y":999,"a":160},{"x":82.1,"y":991,"a":160},{"x":83.2,"y":991,"a":160},{"x":84.5,"y":999,"a":160},{"x":85.8,"y":1024,"a":160},{"x":86.9,"y":991,"a":160},{"x":88.1,"y":1024,"a":160},{"x":89.3,"y":941,"a":170},
{"x":80.8,"y":941,"a":160},{"x":82.1,"y":941,"a":160},{"x":83.4,"y":941,"a":160},{"x":84.5,"y":949,"a":160},{"x":85.6,"y":949,"a":160},{"x":87.9,"y":941,"a":160},
{"x":80.8,"y":874,"a":160},{"x":82.1,"y":891,"a":160},{"x":83.4,"y":857,"a":160},{"x":84.7,"y":882,"a":160},{"x":86.9,"y":882,"a":160},{"x":89.4,"y":882,"a":170},
{"x":82.3,"y":802,"a":160},{"x":84.3,"y":777,"a":160},{"x":85.8,"y":819,"a":160},{"x":87.1,"y":802,"a":160},{"x":89.4,"y":819,"a":170},
{"x":82.1,"y":744,"a":160},{"x":84.5,"y":752,"a":160},{"x":85.6,"y":752,"a":160},{"x":88.1,"y":777,"a":160},
{"x":83.2,"y":685,"a":160},{"x":85.5,"y":719,"a":160},{"x":86.9,"y":735,"a":160},{"x":89.1,"y":702,"a":170},
{"x":84.3,"y":665,"a":160},{"x":86,"y":644,"a":15},{"x":87.8,"y":652,"a":15},
{"x":83.2,"y":610,"a":160},{"x":85.6,"y":619,"a":15},{"x":89.1,"y":619,"a":15},
{"x":84.3,"y":560,"a":160},{"x":86.6,"y":610,"a":15},{"x":88.5,"y":552,"a":15},
{"x":83.8,"y":494,"a":165},{"x":86.6,"y":519,"a":15},{"x":89.2,"y":527,"a":15},
{"x":84.9,"y":457,"a":165},{"x":87.9,"y":474,"a":15},{"x":86.6,"y":419,"a":165},{"x":89.2,"y":422,"a":15},
{"x":90.3,"y":1291,"a":20},{"x":90.3,"y":1224,"a":200},{"x":90.3,"y":1166,"a":210},{"x":90.3,"y":1096,"a":230},{"x":90.1,"y":1024,"a":270},{"x":90.1,"y":760,"a":270},{"x":90.3,"y":660,"a":15},{"x":90.3,"y":569,"a":15},{"x":90.2,"y":468,"a":210}],
"ticks":[
{"x":70,"x2":70,"y":1400,"y2":1420},{"x":75,"x2":75,"y":1400,"y2":1420},{"x":80,"x2":80,"y":1400,"y2":1420},{"x":85,"x2":85,"y":1400,"y2":1420},
{"x":90,"x2":90.65,"y":400,"y2":400},{"x":90,"x2":90.65,"y":500,"y2":500},{"x":90,"x2":90.65,"y":600,"y2":600},{"x":90,"x2":90.65,"y":700,"y2":700},{"x":90,"x2":90.65,"y":800,"y2":800},{"x":90,"x2":90.65,"y":900,"y2":900},{"x":90,"x2":90.65,"y":1000,"y2":1000},{"x":90,"x2":90.65,"y":1100,"y2":1100},{"x":90,"x2":90.65,"y":1200,"y2":1200},{"x":90,"x2":90.65,"y":1300,"y2":1300}],
"labels":[{"x":70,"y":1370,"t":"III"},{"x":77.4,"y":1370,"t":"II"},{"x":85,"y":1370,"t":"I"},{"x":66.6,"y":1345,"t":"(a)"},{"x":91.55,"y":1437,"t":"ms⁻¹"}]
},
"encoding":{
"x":{"field":"x","type":"quantitative","scale":{"domain":[65,90],"nice":false},"axis":{"values":[65,70,75,80,85,90],"format":"d","grid":false,"title":"Latitude / °","titleFontSize":8.5,"titleFontWeight":"normal","titleColor":"#333","labelColor":"#333","labelFontSize":8.5,"tickColor":"#666","tickSize":3,"labelPadding":2,"titlePadding":1,"domainColor":"#aaa","domainWidth":2}},
"y":{"field":"y","type":"quantitative","scale":{"domain":[300,1400],"nice":false},"axis":{"values":[300,400,500,600,700,800,900,1000,1100,1200,1300,1400],"format":"d","grid":false,"title":"Altitude above 1B (km)","titleFontSize":8.3,"titleFontWeight":"normal","titleColor":"#333","labelColor":"#333","labelFontSize":8.3,"tickColor":"#666","tickSize":3,"labelPadding":2,"titlePadding":2,"domainColor":"#888","domainWidth":2}}},
"layer":[
{"data":{"name":"L"},"mark":{"type":"rect","width":8.2,"height":10.5,"clip":true},"encoding":{"color":{"field":"v","type":"quantitative","scale":{"domain":[-2700,-2300,-1950,-1600,-1250,-850,-500,-80,50,200,350],"range":["#000080","#0000ff","#0080ff","#00ffff","#78f090","#ffff00","#ff9000","#ff0000","#e00000","#b00000","#500000"],"interpolate":"rgb"},"legend":{"orient":"none","legendX":199.7,"legendY":-0.5,"title":null,"values":[0,-500,-1000,-1500,-2000,-2500],"format":"d","gradientLength":221,"gradientThickness":8.6,"gradientStrokeColor":"#888","gradientStrokeWidth":1,"labelFontSize":8,"labelColor":"#333","tickCount":6,"labelOffset":2}}}},
{"data":{"name":"T"},"mark":{"type":"rect","width":3.6,"height":10.5,"clip":true},"encoding":{"color":{"field":"v","type":"quantitative"}}},
{"data":{"name":"R1"},"mark":{"type":"rect","width":8.2,"height":5.5,"clip":true},"encoding":{"color":{"field":"v","type":"quantitative"}}},
{"data":{"name":"R2"},"mark":{"type":"rect","width":8.2,"height":10.5,"clip":true},"encoding":{"color":{"field":"v","type":"quantitative"}}},
{"data":{"name":"R3"},"mark":{"type":"rect","width":8.2,"height":20.5,"clip":true},"encoding":{"color":{"field":"v","type":"quantitative"}}},
{"data":{"name":"R1b"},"mark":{"type":"rect","width":4,"height":5.5,"clip":true},"encoding":{"color":{"field":"v","type":"quantitative"}}},
{"data":{"name":"R2b"},"mark":{"type":"rect","width":4,"height":10.5,"clip":true},"encoding":{"color":{"field":"v","type":"quantitative"}}},
{"data":{"name":"R3b"},"mark":{"type":"rect","width":4,"height":100,"clip":true},"encoding":{"color":{"field":"v","type":"quantitative"}}},
{"data":{"name":"white"},"mark":{"type":"area","color":"white"},"encoding":{"y2":{"field":"y2"}}},
{"data":{"name":"grey"},"mark":{"type":"area","color":"#cccccc"},"encoding":{"y2":{"field":"y2"}}},
{"data":{"name":"dots"},"mark":{"type":"rule","color":"#bbb","strokeWidth":0.8,"strokeDash":[1,2]},"encoding":{"y2":{"field":"y2"}}},
{"data":{"name":"whitec"},"mark":{"type":"line","color":"white","strokeWidth":1.3,"clip":true},"encoding":{"order":{"field":"i"}}},
{"data":{"name":"dash"},"mark":{"type":"line","color":"white","strokeWidth":1.2,"strokeDash":[3,2]},"encoding":{"order":{"field":"i"}}},
{"data":{"name":"solid"},"mark":{"type":"line","color":"white","strokeWidth":1.2},"encoding":{"order":{"field":"i"}}},
{"data":{"name":"black"},"mark":{"type":"line","color":"black","strokeWidth":1.5},"encoding":{"order":{"field":"i"}}},
{"data":{"name":"arrows"},"mark":{"type":"point","filled":true,"opacity":1,"color":"#5f5f5f","size":60,"shape":"M1,0L-1,-0.62L-1,0.62Z"},"encoding":{"angle":{"field":"a","type":"quantitative","scale":null}}},
{"data":{"name":"ticks"},"mark":{"type":"rule","color":"#555","strokeWidth":1},"encoding":{"x2":{"field":"x2"},"y2":{"field":"y2"}}},
{"data":{"name":"labels"},"mark":{"type":"text","font":"Liberation Sans","fontSize":7.5,"color":"#333","angle":0.3},"encoding":{"text":{"field":"t","type":"nominal"}}}
]}
